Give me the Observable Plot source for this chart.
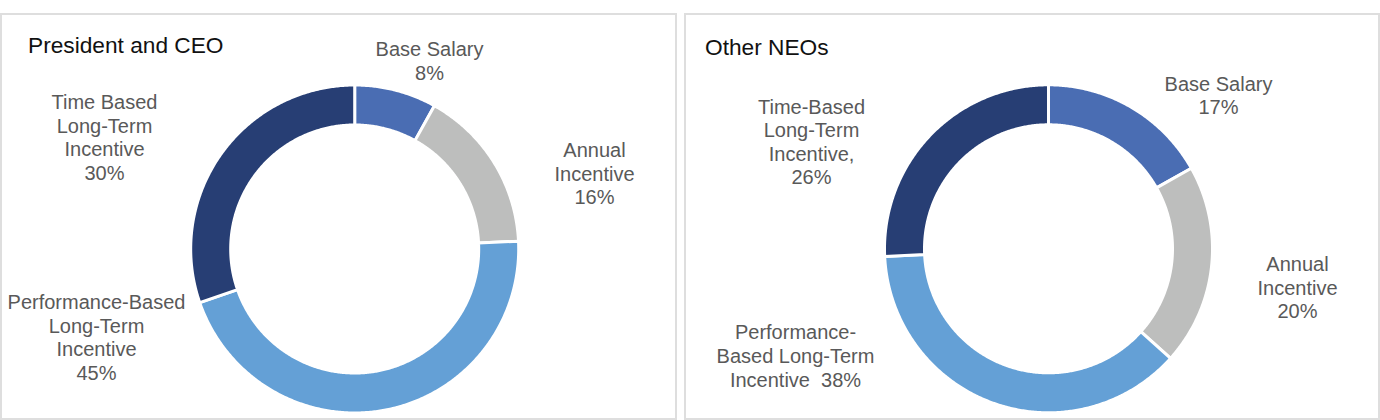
<!DOCTYPE html>
<html>
<head>
<meta charset="utf-8">
<script src="https://cdn.jsdelivr.net/npm/d3@7"></script>
<script src="https://cdn.jsdelivr.net/npm/@observablehq/plot@0.6"></script>
<style>
  html, body { margin: 0; padding: 0; background: #fff; }
  body { width: 1380px; height: 420px; position: relative; overflow: hidden; font-family: "Liberation Sans", Arial, sans-serif; }
  .panel { position: absolute; box-sizing: border-box; border: 2px solid #dedede; }
  .chart { position: absolute; }
  .title { position: absolute; font-size: 22.7px; line-height: 22.7px; color: #111; white-space: nowrap; }
</style>
</head>
<body>
<script>
// ---- data ----
const categories = ["Base Salary", "Annual Incentive", "Performance-Based Long-Term Incentive", "Time-Based Long-Term Incentive"];
const colors = ["#4a6db3", "#bdbebd", "#64a0d6", "#273e74"];

const titles = ["President and CEO", "Other NEOs"];

const ceoValues = [8, 16, 45, 30];
const ceoLabels = ["Base Salary\n", "Annual\nIncentive\n", "Performance-Based\nLong-Term\nIncentive\n", "Time Based\nLong-Term\nIncentive\n"];

const neoValues = [17, 20, 38, 26];
const neoLabels = ["Base Salary\n", "Annual\nIncentive\n", "Performance-\nBased Long-Term\nIncentive\u00a0 ", "Time-Based\nLong-Term\nIncentive,\n"];

// ---- layout (page pixels) ----
const layout = [
  {left: 0, width: 677, cx: 354.2, cy: 248.5, titleX: 28, titleBase: 53,
   labelPos: [[429, 60], [594, 172.5], [96, 336.5], [104, 136.5]]},
  {left: 684, width: 696, cx: 1048, cy: 248.3, titleX: 705, titleBase: 55,
   labelPos: [[1218, 94.5], [1297, 286.5], [795, 355], [811, 141]]}
];
const TOP = 13, H = 407, R = 162.5, RIN = 125.5;

function donut(p, values, labels, title) {
  const W = p.width;
  const cx = p.cx - p.left, cy = p.cy - TOP;
  const arcs = d3.pie().sort(null).value(d => d.v)(
    categories.map((c, i) => ({c, v: values[i], label: labels[i]}))
  );
  const ro = (R + 1.5) / R, ri = (RIN - 1.5) / R;
  const rows = [];
  for (const a of arcs) {
    const n = Math.max(2, Math.ceil((a.endAngle - a.startAngle) / (Math.PI / 360)));
    for (let k = 0; k <= n; k++) {
      const t = a.startAngle + (a.endAngle - a.startAngle) * k / n;
      rows.push({c: a.data.c, x: ro * Math.sin(t), y: ro * Math.cos(t)});
    }
    for (let k = n; k >= 0; k--) {
      const t = a.startAngle + (a.endAngle - a.startAngle) * k / n;
      rows.push({c: a.data.c, x: ri * Math.sin(t), y: ri * Math.cos(t)});
    }
  }
  const textRows = arcs.map((a, i) => ({
    text: a.data.label + a.data.v + "%",
    x: (p.labelPos[i][0] - p.cx) / R,
    y: (p.cy - p.labelPos[i][1]) / R
  }));

  const svg = Plot.plot({
    width: W, height: H, margin: 0,
    x: {domain: [-cx / R, (W - cx) / R], range: [0, W], axis: null},
    y: {domain: [-(H - cy) / R, cy / R], range: [H, 0], axis: null},
    color: {domain: categories, range: colors},
    style: {fontFamily: "'Liberation Sans', Arial, sans-serif", background: "transparent", overflow: "visible"},
    marks: [
      Plot.line(rows, {x: "x", y: "y", z: "c", fill: "c", stroke: "white", strokeWidth: 3, curve: "linear-closed"}),
      Plot.text(textRows, {x: "x", y: "y", text: "text", fontSize: 20, lineHeight: 1.18, fill: "#595959"})
    ]
  });
  svg.classList.add("chart");
  svg.style.left = p.left + "px";
  svg.style.top = TOP + "px";
  svg.style.position = "absolute";

  const panel = document.createElement("div");
  panel.className = "panel";
  panel.style.left = p.left + "px";
  panel.style.top = TOP + "px";
  panel.style.width = W + "px";
  panel.style.height = H + "px";

  const t = document.createElement("div");
  t.className = "title";
  t.textContent = title;
  t.style.left = p.titleX + "px";
  t.style.top = (p.titleBase - 19.2) + "px";

  document.body.appendChild(panel);
  document.body.appendChild(svg);
  document.body.appendChild(t);
}

donut(layout[0], ceoValues, ceoLabels, titles[0]);
donut(layout[1], neoValues, neoLabels, titles[1]);
</script>
</body>
</html>
